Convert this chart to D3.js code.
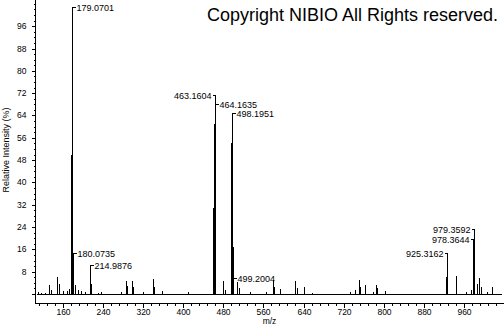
<!DOCTYPE html>
<html>
<head>
<meta charset="utf-8">
<script src="https://cdn.jsdelivr.net/npm/d3@7"></script>
<style>
  body { margin: 0; background: #fff; }
  svg { display: block; font-family: "Liberation Sans", Arial, sans-serif; }
</style>
</head>
<body>
<svg id="chart"></svg>
<script>
// Spectrum data (m/z, relative intensity %)
const peakMz = [111, 117, 124, 133.7, 136, 149.6, 153.6, 161.6, 168.4, 172,
  177.5, 179.0701, 180.0735, 184.3, 190.3, 196.3, 205, 214.9876, 216.6, 231.3, 236,
  276, 286.5, 289, 299, 301, 321, 339.3, 341.3, 357.6, 410.6,
  459, 462.2, 463.1604, 464.1635, 480.3, 483.7, 495.7, 496.2, 498.1951, 499.2004, 508.2, 510.6,
  533.5, 564.8, 578.7, 580.7, 593.3, 623.7, 626.5, 641.7, 656.4,
  732.7, 742.7, 749.6, 752, 763.2, 779, 784.5, 787, 803,
  924.3, 925.3162, 944.5, 963.8, 973.8, 978.3644, 979.3592, 985, 989, 993, 1005, 1016.2];
const peakInt = [0.6, 0.5, 0.4, 3.2, 1.5, 6.1, 3.6, 1.2, 1.2, 1.8,
  50, 100, 11, 3.2, 1.3, 1.0, 0.6, 7.2, 3.6, 0.5, 0.6,
  0.8, 4.6, 2.8, 4.6, 2.4, 0.7, 5.4, 2.5, 1.0, 0.8,
  31, 61, 63, 18, 4.6, 1.5, 29, 54, 56, 17, 4.4, 2,
  0.8, 0.6, 5.0, 2.5, 1.8, 4.6, 2.0, 2.4, 0.5,
  0.8, 1.4, 5.0, 2.6, 3.2, 0.8, 3.2, 2.0, 1.0,
  6.2, 13, 6.5, 0.8, 1.4, 8.2, 22, 3.6, 5.6, 2.5, 0.8, 2.6];

// annotated peaks
const labelMz = [179.0701, 180.0735, 214.9876, 463.1604, 464.1635, 498.1951,
  499.2004, 925.3162, 978.3644, 979.3592];

// scan range of the trace
const scanRange = [109, 1035];

// tick labels
const yTickLabels = [8, 16, 24, 32, 40, 48, 56, 64, 72, 80, 88, 96];
const xTickLabels = [160, 240, 320, 400, 480, 560, 640, 720, 800, 880, 960];

// where each annotation sits (side of the leader, hook height in %)
const labelLayout = {
  "179.0701": {side: "right", level: 103},
  "180.0735": {side: "right", level: 14.7},
  "214.9876": {side: "right", level: 10.4},
  "463.1604": {side: "left", level: 71.3},
  "464.1635": {side: "right", level: 68.1},
  "498.1951": {side: "right", level: 64.9},
  "499.2004": {side: "right", level: 5.8},
  "925.3162": {side: "left", level: 14.7},
  "978.3644": {side: "left", level: 19.8},
  "979.3592": {side: "left", level: 23.3}
};

const width = 504;
const height = 325;
const margin = {left: 35, right: 0, top: 0};
const baseY = 294;      // 0 % level
const axisY = 303.5;    // x axis line

const svg = d3.select('#chart')
  .attr('width', width)
  .attr('height', height);

const xScale = d3.scaleLinear()
  .domain([105, 1039.5])
  .range([margin.left, width - margin.right]);

const yScale = d3.scaleLinear()
  .domain([0, 105.4])
  .range([baseY, margin.top]);

const px = v => Math.round(xScale(v)) + 0.5;
const py = v => Math.round(yScale(v)) + 0.5;

// Copyright note
svg.append('text')
  .attr('x', 207)
  .attr('y', 20.5)
  .attr('font-size', 18)
  .attr('fill', '#000')
  .text('Copyright NIBIO All Rights reserved.');

// Y axis: minor every 2, major every 8
const yMinor = svg.append('g')
  .attr('transform', 'translate(' + (margin.left + 0.5) + ',0)')
  .call(d3.axisLeft(yScale).tickValues(d3.range(0, 105, 2)).tickSize(2).tickFormat(''));
const yMajor = svg.append('g')
  .attr('transform', 'translate(' + (margin.left + 0.5) + ',0)')
  .call(d3.axisLeft(yScale).tickValues([0].concat(yTickLabels)).tickSize(4)
    .tickFormat(d => d === 0 ? '' : d).tickPadding(5));

// X axis: minor every 16, major every 80
const xMinor = svg.append('g')
  .attr('transform', 'translate(0,' + axisY + ')')
  .call(d3.axisBottom(xScale).tickValues(d3.range(112, 1040, 16)).tickSize(2).tickFormat(''));
const xMajor = svg.append('g')
  .attr('transform', 'translate(0,' + axisY + ')')
  .call(d3.axisBottom(xScale).tickValues(xTickLabels).tickSize(4).tickPadding(1));

svg.selectAll('.domain').remove();
svg.selectAll('.tick line').attr('stroke', '#000').attr('shape-rendering', 'crispEdges');
svg.selectAll('.tick text').attr('font-size', 8.5).attr('fill', '#000')
  .attr('font-family', '"Liberation Sans", Arial, sans-serif');

// snap tick positions to whole pixels
yMinor.selectAll('.tick').attr('transform', d => 'translate(0,' + py(d) + ')');
yMajor.selectAll('.tick').attr('transform', d => 'translate(0,' + py(d) + ')');
xMinor.selectAll('.tick').attr('transform', d => 'translate(' + px(d) + ',0)');
xMajor.selectAll('.tick').attr('transform', d => 'translate(' + px(d) + ',0)');

// axis lines
svg.append('line')
  .attr('x1', margin.left + 0.5).attr('x2', margin.left + 0.5)
  .attr('y1', 0).attr('y2', axisY)
  .attr('stroke', '#000').attr('shape-rendering', 'crispEdges');
svg.append('line')
  .attr('x1', margin.left).attr('x2', width)
  .attr('y1', axisY).attr('y2', axisY)
  .attr('stroke', '#000').attr('shape-rendering', 'crispEdges');

// axis titles
svg.append('text')
  .attr('transform', 'translate(9,150) rotate(-90)')
  .attr('text-anchor', 'middle')
  .attr('font-size', 9)
  .attr('fill', '#000')
  .text('Relative Intensity (%)');

svg.append('text')
  .attr('x', (margin.left + width) / 2)
  .attr('y', 324)
  .attr('text-anchor', 'middle')
  .attr('font-size', 8.5)
  .attr('fill', '#000')
  .text('m/z');

// baseline of the trace
const plot = svg.append('g').attr('shape-rendering', 'crispEdges');
plot.append('line')
  .attr('x1', xScale(scanRange[0])).attr('x2', xScale(scanRange[1]))
  .attr('y1', baseY + 0.5).attr('y2', baseY + 0.5)
  .attr('stroke', '#000');

// peaks as sticks
const peaks = peakMz.map((m, i) => ({mz: m, int: peakInt[i]}));
plot.selectAll('line.peak')
  .data(peaks)
  .enter()
  .append('line')
  .attr('class', 'peak')
  .attr('x1', d => px(d.mz))
  .attr('x2', d => px(d.mz))
  .attr('y1', baseY + 0.5)
  .attr('y2', d => Math.round(yScale(d.int)))
  .attr('stroke', '#000')
  .attr('stroke-width', 1);

// annotations
const labels = labelMz.map(m => {
  let i = peakMz.indexOf(m);
  let lay = labelLayout[m.toFixed(4)];
  return {mz: m, int: peakInt[i], side: lay.side, level: lay.level};
});

const ann = svg.append('g').attr('class', 'annotations');
labels.forEach(d => {
  let x = px(d.mz);
  let yHook = py(d.level);
  let yTop = Math.round(yScale(d.int));
  let dir = d.side === 'right' ? 1 : -1;
  if (yHook < yTop) {
    ann.append('line')
      .attr('x1', x).attr('x2', x)
      .attr('y1', yTop).attr('y2', yHook - 0.5)
      .attr('stroke', '#000').attr('shape-rendering', 'crispEdges');
  }
  ann.append('line')
    .attr('x1', x).attr('x2', x + dir * 3)
    .attr('y1', yHook).attr('y2', yHook)
    .attr('stroke', '#000').attr('shape-rendering', 'crispEdges');
  ann.append('text')
    .attr('x', x + dir * 4)
    .attr('y', yHook)
    .attr('dy', '0.35em')
    .attr('text-anchor', d.side === 'right' ? 'start' : 'end')
    .attr('font-size', 9)
    .attr('fill', '#000')
    .text(d.mz.toFixed(4));
});
</script>
</body>
</html>
